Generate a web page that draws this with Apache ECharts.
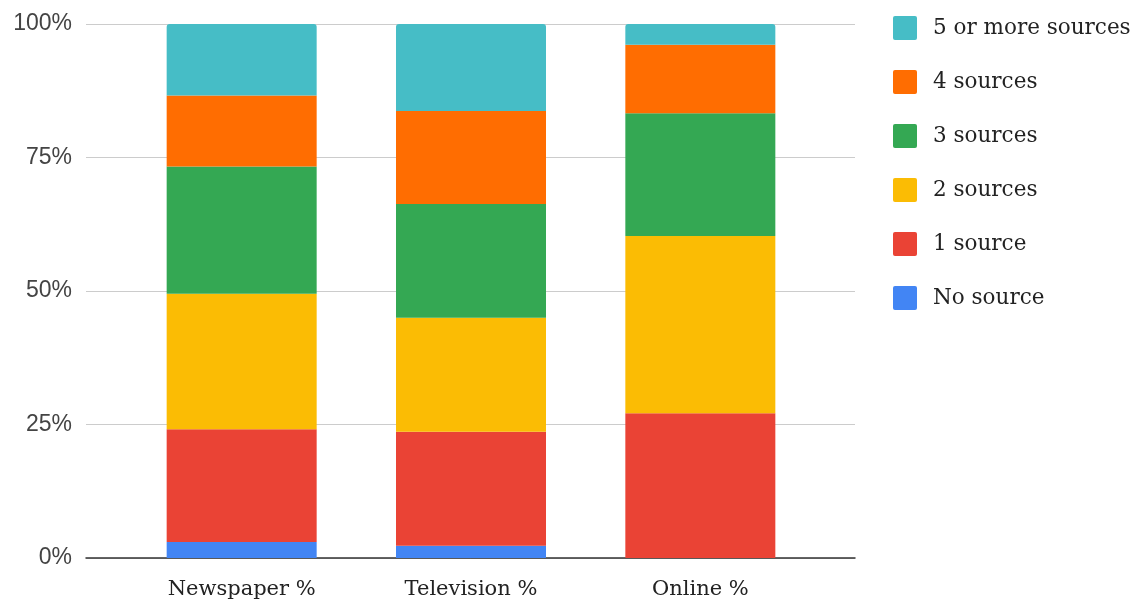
<!DOCTYPE html>
<html>
<head>
<meta charset="utf-8">
<script src="https://cdn.jsdelivr.net/npm/echarts@6/dist/echarts.min.js"></script>
<style>
  html, body { margin: 0; padding: 0; background: #ffffff; }
  #chart { width: 1140px; height: 605px; }
</style>
</head>
<body>
<div id="chart"></div>
<script>
// Share of stories by number of sources, per medium (percent of stories)
const categories = ['Newspaper %', 'Television %', 'Online %'];
const seriesNames = ['No source', '1 source', '2 sources', '3 sources', '4 sources', '5 or more sources'];
const noSource   = [3.0, 2.3, 0];
const oneSource  = [21.1, 21.35, 27.1];
const twoSources = [25.4, 21.35, 33.2];
const threeSources = [23.8, 21.3, 23.0];
const fourSources  = [13.3, 17.4, 12.8];
const fivePlus     = [13.4, 16.3, 3.9];
const yTicks = [0, 25, 50, 75, 100];

const seriesValues = [noSource, oneSource, twoSources, threeSources, fourSources, fivePlus];
const colors = ['#4285F4', '#EA4335', '#FBBC04', '#34A853', '#FF6D01', '#46BDC6'];

const serifFont = '"DejaVu Serif", "Liberation Serif", serif';
const sansFont = '"Liberation Sans", Arial, sans-serif';

// square legend swatch with slightly softened corners
const swatch = 'path://M2,0 H22 A2,2 0 0 1 24,2 V22 A2,2 0 0 1 22,24 H2 A2,2 0 0 1 0,22 V2 A2,2 0 0 1 2,0 Z';

const chart = echarts.init(document.getElementById('chart'), null, { renderer: 'canvas' });

const series = seriesNames.map((name, i) => ({
  name: name,
  type: 'bar',
  stack: 'total',
  xAxisIndex: 1,
  yAxisIndex: 1,
  barWidth: 150,
  itemStyle: {
    color: colors[i],
    borderRadius: i === seriesNames.length - 1 ? [3, 3, 0, 0] : 0
  },
  emphasis: { disabled: true },
  data: seriesValues[i]
}));

chart.setOption({
  animation: false,
  backgroundColor: '#ffffff',
  color: colors,
  grid: [
    // full-width frame: gridlines, value labels and baseline
    { left: 86, right: 285, top: 24, bottom: 47, containLabel: false },
    // bar area
    { left: 127, right: 325, top: 24, bottom: 47, containLabel: false }
  ],
  legend: {
    orient: 'vertical',
    left: 893,
    top: 16,
    padding: 0,
    itemWidth: 24,
    itemHeight: 24,
    itemGap: 30,
    icon: swatch,
    data: seriesNames.slice().reverse(),
    textStyle: {
      fontFamily: serifFont,
      fontSize: 21.5,
      color: '#222222',
      padding: [0, 0, 0, 11]
    }
  },
  xAxis: [
    {
      gridIndex: 0,
      type: 'value',
      min: 0,
      max: 1,
      axisLine: { show: true, onZero: false, lineStyle: { color: '#333333', width: 1.5 } },
      axisTick: { show: false },
      axisLabel: { show: false },
      splitLine: { show: false }
    },
    {
      gridIndex: 1,
      type: 'category',
      data: categories,
      axisLine: { show: false },
      axisTick: { show: false },
      axisLabel: {
        margin: 21,
        fontFamily: serifFont,
        fontSize: 21,
        color: '#222222'
      }
    }
  ],
  yAxis: [
    {
      gridIndex: 0,
      type: 'value',
      min: yTicks[0],
      max: yTicks[yTicks.length - 1],
      interval: yTicks[1] - yTicks[0],
      axisLine: { show: false },
      axisTick: { show: false },
      axisLabel: {
        formatter: '{value}%',
        margin: 14,
        fontFamily: sansFont,
        fontSize: 23,
        color: '#444444'
      },
      splitLine: { show: true, lineStyle: { color: '#cccccc', width: 1 } }
    },
    {
      gridIndex: 1,
      type: 'value',
      min: yTicks[0],
      max: yTicks[yTicks.length - 1],
      show: false
    }
  ],
  series: series
});
</script>
</body>
</html>
